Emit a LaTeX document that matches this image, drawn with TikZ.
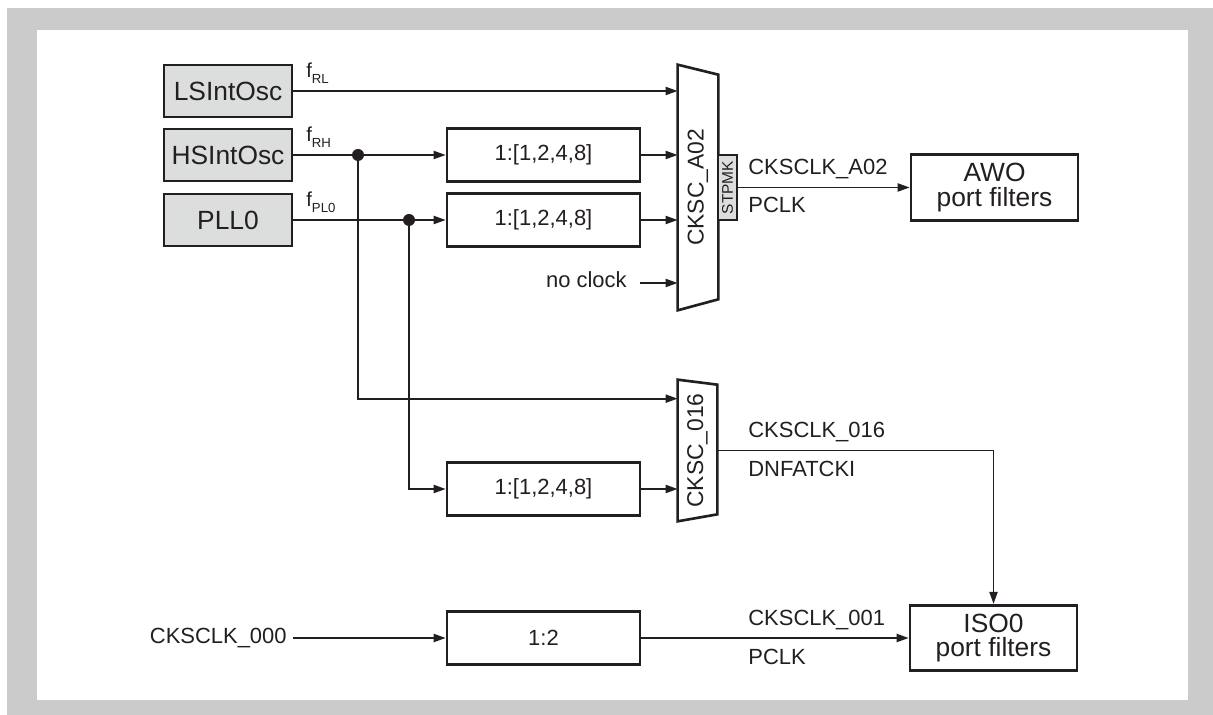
\documentclass[tikz,border=0pt]{standalone}
\usepackage{fontspec}
\setmainfont{Liberation Sans}
\usetikzlibrary{arrows.meta}
\definecolor{framegray}{HTML}{CBCBCB}
\definecolor{boxgray}{HTML}{DCDDDD}
\definecolor{ink}{HTML}{231F20}

\begin{document}
\begin{tikzpicture}[
  x=0.02cm, y=-0.02cm,
  src/.style={rectangle, draw=ink, fill=boxgray, line width=1.5pt, minimum width=2.56cm, minimum height=1.04cm, inner sep=0pt, text=ink, font=\fontsize{15}{17}\selectfont},
  divbox/.style={rectangle, draw=ink, line width=1.5pt, minimum width=3.86cm, minimum height=1.05cm, inner sep=0pt, text=ink, font=\fontsize{12.5}{14}\selectfont},
  portbox/.style={rectangle, draw=ink, line width=1.5pt, minimum width=3.34cm, minimum height=1.31cm, inner sep=0pt, align=center, text=ink, font=\fontsize{15}{14}\selectfont},
  muxbody/.style={rectangle, inner sep=0pt, text=ink},
  muxlbl/.style={rotate=90, inner sep=0pt, text=ink, font=\fontsize{13}{15}\selectfont},
  sig/.style={draw=ink, line width=1.1pt, -{Triangle[length=2.4mm,width=1.6mm]}},
  lbl/.style={inner sep=0pt, text=ink, font=\fontsize{12.5}{14}\selectfont},
  freq/.style={inner sep=0pt, anchor=base west, text=ink, font=\fontsize{11.5}{13}\selectfont},
  ]
 % frame
 \fill [framegray] (7,8) rectangle (1213,715);
 \fill [white] (37,30) rectangle (1188,700);
 \useasboundingbox (0,0) rectangle (1213,715);

 % clock sources
 \node [src] (ls) at (228,91) {LSIntOsc};
 \node [src] (hs) at (228,155) {HSIntOsc};
 \node [src] (pll) at (228,220) {PLL0};

 \node [freq] (frl) at (306,78) {f\raisebox{-0.55ex}{\fontsize{7.5}{8}\selectfont RL}};
 \node [freq] (frh) at (306,142) {f\raisebox{-0.55ex}{\fontsize{7.5}{8}\selectfont RH}};
 \node [freq] (fpl) at (306,207) {f\raisebox{-0.55ex}{\fontsize{7.5}{8}\selectfont PL0}};

 % dividers
 \node [divbox] (div1) at (543.5,155) {1:[1,2,4,8]};
 \node [divbox] (div2) at (543.5,220) {1:[1,2,4,8]};
 \node [divbox] (div3) at (543.5,489) {1:[1,2,4,8]};
 \node [divbox] (div4) at (543.5,638) {1:2};

 % selectors
 \node [muxbody, minimum width=0.8cm, minimum height=4.9cm,
   label={[muxlbl]center:CKSC\_A02}] (muxa) at (698,187.5) {};
 \draw [ink, line width=1.5pt] (muxa.north west) -- ([yshift=-0.2cm]muxa.north east)
   -- ([yshift=0.22cm]muxa.south east) -- (muxa.south west) -- cycle;
 \node [muxbody, minimum width=0.78cm, minimum height=2.82cm,
   label={[muxlbl]center:CKSC\_016}] (muxb) at (697.5,450.5) {};
 \draw [ink, line width=1.5pt] (muxb.north west) -- ([yshift=-0.1cm]muxb.north east)
   -- ([yshift=0.14cm]muxb.south east) -- (muxb.south west) -- cycle;

 \node [rectangle, draw=ink, fill=boxgray, line width=0.8pt, minimum width=0.38cm, minimum height=1.3cm, inner sep=0pt,
   label={[rotate=90, inner sep=0pt, text=ink, font=\fontsize{8.8}{10}\selectfont]center:STPMK}] (stpmk) at (727.5,187.5) {};

 % port filters
 \node [portbox] (awo) at (994.5,187.5) {AWO\\port filters};
 \node [portbox] (iso) at (993.5,638) {ISO0\\port filters};

 % inputs of CKSC_A02
 \coordinate (hsdot) at (358,155);
 \coordinate (plldot) at (409,220);
 \draw [sig] (ls.east) -- (ls -| muxa.west);
 \draw [sig] (hs.east) -- (div1.west);
 \draw [sig] (pll.east) -- (div2.west);
 \draw [sig] (div1.east) -- (div1 -| muxa.west);
 \draw [sig] (div2.east) -- (div2 -| muxa.west);
 \node [lbl, anchor=base east] (nc) at (627,288) {no clock};
 \coordinate (ncin) at (640,283);
 \draw [sig] (ncin) -- (ncin -| muxa.west);

 % inputs of CKSC_016
 \coordinate (mbin) at ([yshift=-0.38cm]muxb.north west);
 \draw [sig] (hsdot) |- (mbin);
 \draw [sig] (plldot) |- (div3.west);
 \draw [sig] (div3.east) -- (div3 -| muxb.west);
 \fill [ink] (hsdot) circle (1.2mm);
 \fill [ink] (plldot) circle (1.2mm);

 % outputs
 \draw [sig] (stpmk.east) -- (awo.west);
 \node [lbl, anchor=base west] (ckA) at (748,175) {CKSCLK\_A02};
 \node [lbl, anchor=base west] (pclkA) at (748,213) {PCLK};

 \draw [sig] (muxb.east) -| (iso.north);
 \node [lbl, anchor=base west] (ck16) at (748,438) {CKSCLK\_016};
 \node [lbl, anchor=base west] (dnf) at (748,477) {DNFATCKI};

 \node [lbl, anchor=east, inner xsep=0.12cm] (c000) at (293,638) {CKSCLK\_000};
 \draw [sig] (c000) -- (div4);
 \draw [sig] (div4.east) -- (iso.west);
 \node [lbl, anchor=base west] (ck01) at (748,625) {CKSCLK\_001};
 \node [lbl, anchor=base west] (pclkI) at (748,664) {PCLK};
\end{tikzpicture}
\end{document}
